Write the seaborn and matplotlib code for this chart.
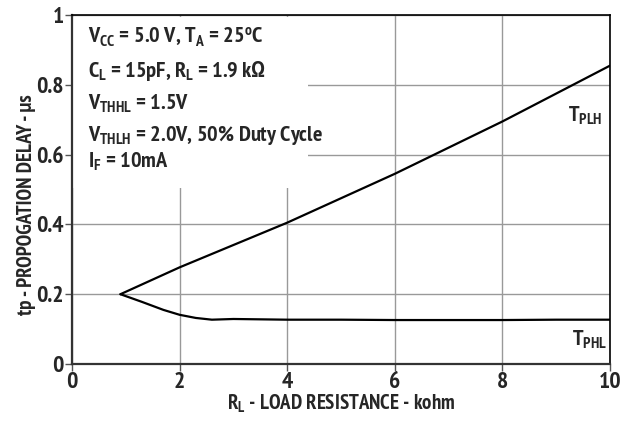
import matplotlib
matplotlib.use("Agg")
import matplotlib.pyplot as plt
import seaborn as sns
import pandas as pd
from matplotlib.patches import Rectangle
from matplotlib import font_manager as fm

# data
plh_x = [0.9, 2.0, 4.0, 6.0, 8.0, 10.0]
plh_y = [0.200, 0.277, 0.405, 0.545, 0.695, 0.855]
phl_x = [0.9, 1.3, 1.7, 2.0, 2.3, 2.6, 3.0, 3.5, 4.0, 5.0, 6.0, 7.0, 8.0, 9.0, 10.0]
phl_y = [0.200, 0.178, 0.155, 0.141, 0.132, 0.127, 0.129, 0.128, 0.127, 0.127, 0.126, 0.126, 0.126, 0.127, 0.127]
x_ticks = [0, 2, 4, 6, 8, 10]
y_ticks = [0, 0.2, 0.4, 0.6, 0.8, 1]
y_tick_labels = ["0", "0.2", "0.4", "0.6", "0.8", "1"]

sns.set_style("ticks")
bold_names = set(f.name for f in fm.fontManager.ttflist
                 if (f.weight in (700, "bold") or str(f.weight) == "700"))
FONT = "DejaVu Sans"
for cand in ["PT Sans Narrow", "Fira Sans Condensed", "Roboto Condensed",
             "Open Sans Condensed", "Archivo Narrow", "Asap Condensed", "Barlow Condensed"]:
    if cand in bold_names:
        FONT = cand
        break
plt.rcParams["font.family"] = [FONT, "DejaVu Sans"]
plt.rcParams["font.weight"] = "bold"
plt.rcParams["mathtext.fontset"] = "custom"
plt.rcParams["mathtext.rm"] = FONT + ":weight=bold"
plt.rcParams["mathtext.bf"] = FONT + ":weight=bold"
plt.rcParams["mathtext.it"] = FONT + ":weight=bold"

df = pd.concat([
    pd.DataFrame({"x": plh_x, "y": plh_y, "s": "PLH"}),
    pd.DataFrame({"x": phl_x, "y": phl_y, "s": "PHL"}),
])

fig = plt.figure(figsize=(6.39, 4.25), dpi=100)
ax = fig.add_axes([0.1127, 0.1435, 0.842, 0.8212])
sns.lineplot(data=df, x="x", y="y", units="s", estimator=None, color="black",
             lw=1.6, ax=ax, zorder=3, sort=False)

ax.set_xlim(0, 10)
ax.set_ylim(0, 1)
ax.set_xticks(x_ticks)
ax.set_xticklabels([str(t) for t in x_ticks])
ax.set_yticks(y_ticks)
ax.set_yticklabels(y_tick_labels)
ax.grid(True, color="#999999", lw=1.0)
ax.set_axisbelow(True)
for s in ["top", "right"]:
    ax.spines[s].set_color("black")
    ax.spines[s].set_linewidth(1.2)
for s in ["left", "bottom"]:
    ax.spines[s].set_color("#333333")
    ax.spines[s].set_linewidth(1.6)
ax.tick_params(axis="both", direction="out", length=5, width=1, color="#555555",
               labelsize=17, pad=1)
for lab in ax.get_xticklabels() + ax.get_yticklabels():
    lab.set_fontweight("bold")

ax.set_xlabel(r"R$_\mathregular{L}$ - LOAD RESISTANCE - kohm", fontsize=15,
              fontweight="bold", va="center")
ax.xaxis.set_label_coords(0.5, (364 - 404) / 349)
ax.set_ylabel("tp - PROPOGATION DELAY - μs", fontsize=15, fontweight="bold",
              va="center")
ax.yaxis.set_label_coords((26 - 72) / 538, (364 - 205) / 349)

# white box behind conditions text
ax.add_patch(Rectangle((0.02, 0.505), 4.37, 0.49, facecolor="white",
                       edgecolor="none", zorder=1.5))

lines = [
    r"V$_\mathregular{CC}$ = 5.0 V, T$_\mathregular{A}$ = 25$^\mathregular{o}$C",
    r"C$_\mathregular{L}$ = 15pF, R$_\mathregular{L}$ = 1.9 kΩ",
    r"V$_\mathregular{THHL}$ = 1.5V",
    r"V$_\mathregular{THLH}$ = 2.0V, 50% Duty Cycle",
    r"I$_\mathregular{F}$ = 10mA",
]
ys = [0.935, 0.84, 0.745, 0.655, 0.58]
for t, yy in zip(lines, ys):
    ax.text(0.3, yy, t, fontsize=16, fontweight="bold", va="center", ha="left", zorder=4)

ax.text(9.22, 0.71, r"T$_\mathregular{PLH}$", fontsize=16, fontweight="bold",
        ha="left", va="center", zorder=4)
ax.text(9.29, 0.069, r"T$_\mathregular{PHL}$", fontsize=16, fontweight="bold",
        ha="left", va="center", zorder=4)

fig.savefig("out.png", dpi=100)
